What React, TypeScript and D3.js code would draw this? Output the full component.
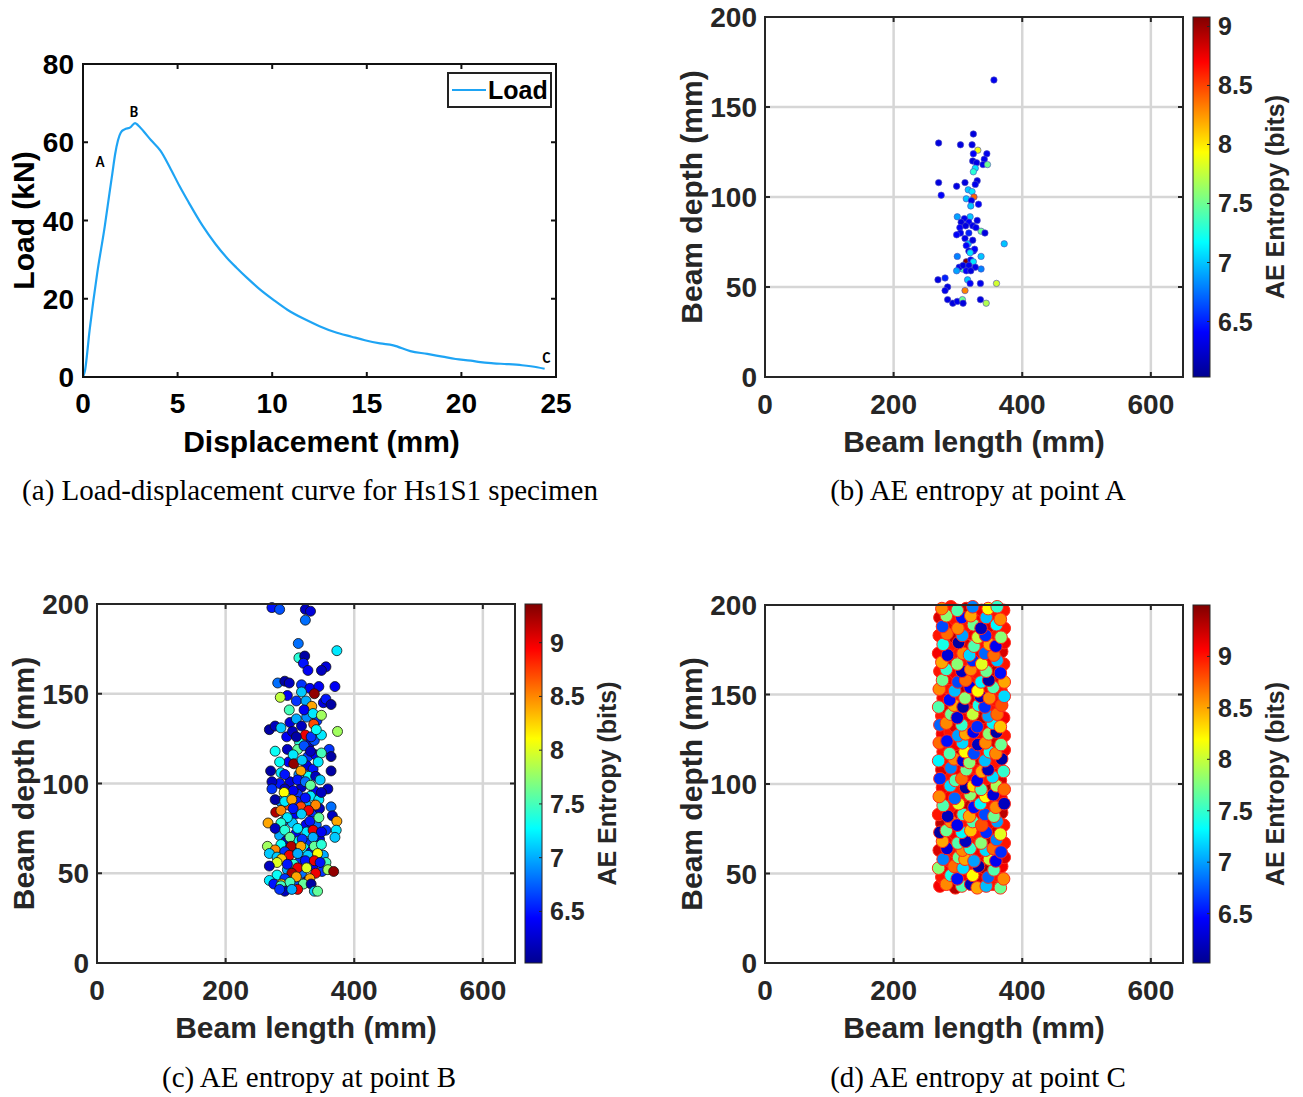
import React from 'react';
import * as d3 from 'd3';

// ---------------- DATA ----------------
const dispMM = [0,0.1,0.35,0.75,1.15,1.4,1.55,1.7,1.85,2.0,2.2,2.5,2.75,2.9,3.2,3.6,4.1,4.6,5.1,5.6,6.3,7.0,7.6,8.1,8.7,9.3,10.1,10.8,11.7,12.5,13.3,14.2,14.9,15.7,16.4,17.3,18.2,19.0,19.7,20.5,21.0,21.7,22.4,23.2,24.0,24.4];
const loadKN = [0,1.5,12,26.5,38.5,47,52,57,60.5,62.5,63.3,63.8,64.9,64.4,62.8,60.5,57.8,53.5,48.8,44.5,38.8,34,30.5,28,25.2,22.6,19.6,17.2,14.8,13.0,11.5,10.3,9.4,8.6,8.1,6.6,5.9,5.2,4.6,4.2,3.8,3.5,3.3,3.0,2.5,2.1];
const pointLabels = [
  { t: 'A', x: 0.9, y: 53.7 },
  { t: 'B', x: 2.7, y: 66.4 },
  { t: 'C', x: 24.5, y: 3.6 },
];
const dispTicks = [0, 5, 10, 15, 20, 25];
const loadTicks = [0, 20, 40, 60, 80];
const lengthTicks = [0, 200, 400, 600];
const depthTicks = [0, 50, 100, 150, 200];
const entropyTicks = [6.5, 7, 7.5, 8, 8.5, 9];

// [beam length, beam depth, AE entropy]
const pointA: number[][] = [
  [356,165,6.35],[324,135,6.3],[270,130,6.3],[304,129,6.3],[322,129,6.32],[331,126,7.9],[345,124,6.35],[324,124,6.4],[341,121,6.35],[323,120,6.3],[329,119,6.32],[339,118,6.35],[346,118,7.5],[327,116,7.1],[324,114,7.3],[330,109,6.3],[327,107,6.35],[270,108,6.3],[298,106,6.32],[311,108,6.3],[274,101,6.4],[316,104,7.0],[322,103,7.1],[325,100,8.4],[313,99,7.0],[321,98,6.35],[332,96,6.4],[320,95,7.0],[299,89,6.9],[319,89,7.0],[310,88,6.35],[305,86,6.3],[330,87,6.32],[317,86,6.4],[323,84,6.35],[303,83,6.4],[312,84,6.3],[336,81,7.5],[328,83,6.35],[342,80,6.3],[304,80,6.35],[298,79,6.4],[317,80,6.5],[311,77,6.35],[316,74,7.0],[372,74,7.0],[323,76,6.3],[313,73,6.4],[324,70,6.35],[317,70,6.32],[326,71,6.4],[319,69,7.1],[299,67,6.8],[336,67,7.0],[313,64,9.1],[307,60,7.4],[302,61,6.35],[308,62,6.3],[320,65,6.4],[324,64,7.1],[317,62,6.35],[298,59,6.9],[336,60,6.8],[313,59,6.4],[327,61,6.35],[320,59,6.3],[269,54,6.3],[280,55,6.5],[315,54,7.0],[319,52,6.4],[335,52,6.35],[360,52,7.8],[284,50,6.3],[280,48,6.35],[311,48,8.3],[284,43,6.32],[335,43,6.3],[292,41,6.3],[299,42,6.35],[307,43,7.5],[308,41,6.3],[344,41,7.7]
];

const pointBCore: number[][] = [
  [300,134,6.3],[310,136,7.0],[326,137,6.9],[342,135,6.6],[295,126,6.4],[315,123,7.4],[330,122,6.3],[338,124,6.7],[296,119,6.2],[312,119,7.6],[328,115,6.6],[340,116,6.4],[298,112,6.4],[326,110,6.3],[336,108,6.5],[314,105,6.9],[329,104,7.3],[340,104,6.2],[300,101,6.3],[284,100,6.5],[318,98,6.2],[338,96,6.4],[298,93,7.3],[312,94,6.6],[332,93,7.2],[285,90,6.9],[345,91,7.2],[311,90,6.5],[298,88,8.7],[326,88,7.0],[335,84,6.6],[309,83,6.4],[346,86,6.2],[290,79,6.8],[304,78,7.1],[325,77,6.4],[341,77,6.8],[284,71,7.0],[309,72,6.4],[326,73,7.2],[356,74,6.6],[294,68,6.2],[314,68,7.3],[330,67,6.6],[346,69,6.3],[306,63,6.5],[322,64,7.3],[333,62,6.4],[295,58,6.8],[316,57,6.6],[352,60,7.0],[306,55,7.4],[336,54,6.4],[318,50,6.8],[296,52,7.0],[350,51,6.6],[325,45,6.4],[308,44,6.7],[295,42,7.6],[352,145,6.3],[310,146,6.6],[325,146,7.0],[296,149,6.4]
];
const pointB: number[][] = [
  [272,198,6.5],[284,197,6.7],[324,197,6.2],[332,196,6.3],[324,191,6.8],
  [313,178,6.8],[373,174,7.2],[314,170,7.4],[323,171,6.1],[321,167,6.5],[328,163,6.4],[356,165,6.3],[349,163,6.2],
  [281,156,6.8],[292,157,6.1],[299,156,6.2],[318,155,6.6],[331,153,6.4],[345,154,6.4],[370,154,6.4],[318,151,7.1],[338,150,9.3],[285,148,7.9],[356,147,6.5],[364,144,6.1],[334,143,8.4],[322,141,6.4],[336,139,7.2],[349,138,7.8],[299,141,7.5],
  [268,130,6.1],[277,132,6.2],[286,131,7.1],[304,129,6.2],[318,132,6.2],[337,133,8.7],[324,127,9.0],[333,126,6.6],[349,127,7.2],[374,129,7.8],[310,126,6.1],[341,130,7.3],
  [277,118,7.3],[305,116,7.2],[322,121,6.7],[332,118,6.2],[361,119,6.6],[364,115,6.1],[349,117,7.5],[284,112,7.3],[306,111,9.3],[319,113,7.1],[344,112,7.2],[270,107,6.1],[286,106,7.2],[292,105,6.5],[317,107,8.4],[364,107,6.1],[272,101,6.2],[312,102,6.5],[324,101,6.8],[332,99,7.6],[347,102,7.1],[359,97,6.2],[272,97,6.6],[292,97,6.2],[305,96,6.4],[291,95,8.1],[349,95,6.2],
  [277,91,6.1],[292,90,7.2],[303,91,8.4],[324,92,6.5],[340,88,8.5],[317,87,8.7],[305,86,6.5],[278,84,9.2],[286,85,8.5],[329,85,9.0],[296,81,7.2],[318,83,7.1],[364,87,6.8],[331,79,6.5],[366,82,6.2],[345,81,7.6],
  [266,78,8.4],[286,78,7.4],[277,75,6.2],[292,74,7.4],[312,75,7.2],[336,74,9.0],[349,73,6.4],[373,79,8.4],[372,74,7.2],[370,70,7.1],[300,70,7.6],[319,69,6.6],[336,70,7.0],
  [265,65,7.8],[286,66,7.3],[302,65,9.2],[317,65,8.4],[338,65,7.6],[349,66,7.4],[277,63,8.5],[292,62,6.6],[299,60,9.0],[312,61,7.0],[328,60,7.1],[343,61,8.1],[268,61,7.1],[280,59,7.1],[287,58,8.3],[324,57,6.5],[338,57,9.0],[356,56,7.5],[280,56,8.0],[268,54,6.2],[296,55,6.5],[312,53,9.0],[326,53,8.0],[347,56,6.5],[359,52,7.8],[368,51,9.3],[340,50,9.0],[303,50,9.2],[280,49,7.3],[292,47,6.6],[310,48,8.4],[331,47,8.4],[268,46,7.2],[275,44,6.5],[287,44,8.3],[300,45,7.5],[321,44,7.6],[333,44,6.1],[286,43,7.5],[312,41,9.0],[292,40,6.2],[338,40,7.1],[343,40,7.6],[303,41,7.0],[284,41,6.6]
];

const pointC: number[][] = [
  [272,43,9.1],[282,44,8.6],[296,42,9.3],[306,43,7.6],[320,44,6.2],[330,42,8.5],[344,43,7.1],[354,44,9.0],[366,42,7.7],
  [275,48,9.0],[289,49,7.4],[299,47,6.5],[313,48,9.1],[323,49,8.2],[337,47,9.2],[347,48,6.8],[361,49,9.0],[371,47,8.6],
  [270,53,7.8],[284,52,9.1],[294,54,8.7],[308,53,7.2],[318,52,9.0],[332,54,6.1],[342,53,9.4],[356,52,7.6],[368,54,9.1],
  [277,58,6.9],[287,57,9.0],[301,59,7.7],[311,58,8.5],[325,57,7.0],[335,59,9.1],[349,58,8.0],[359,57,6.4],[372,59,9.2],
  [271,63,9.2],[283,64,6.3],[295,62,9.0],[307,63,8.6],[319,64,7.5],[331,62,9.1],[343,63,7.2],[355,64,8.7],[367,62,6.6],
  [276,68,8.5],[288,69,9.1],[300,67,7.6],[312,68,6.2],[324,69,9.0],[336,67,7.8],[348,68,9.3],[360,69,6.9],[372,67,9.0],
  [272,73,6.1],[282,74,7.7],[296,72,9.1],[306,73,7.3],[320,74,8.4],[330,72,9.0],[344,73,6.6],[354,74,9.2],[366,72,8.1],
  [275,78,9.3],[289,79,8.6],[299,77,6.4],[313,78,9.0],[323,79,7.6],[337,77,8.8],[347,78,9.1],[361,79,7.0],[371,77,9.0],
  [270,83,9.0],[284,82,6.2],[294,84,9.2],[308,83,7.5],[318,82,8.5],[332,84,9.1],[342,83,6.7],[356,82,7.7],[368,84,9.3],
  [277,88,7.6],[287,87,9.0],[301,89,8.1],[311,88,9.3],[325,87,6.5],[335,89,7.3],[349,88,9.0],[359,87,8.6],[372,89,6.2],
  [271,93,8.6],[283,94,9.1],[295,92,6.8],[307,93,9.0],[319,94,7.8],[331,92,9.2],[343,93,8.2],[355,94,6.3],[367,92,9.1],
  [276,98,9.1],[288,99,7.2],[300,97,9.0],[312,98,6.1],[324,99,8.3],[336,97,7.6],[348,98,9.4],[360,99,7.9],[372,97,8.7],
  [272,103,6.6],[282,104,9.0],[296,102,7.6],[306,103,8.7],[320,104,9.1],[330,102,6.4],[344,103,9.0],[354,104,7.2],[366,102,9.2],
  [275,108,9.2],[289,109,6.9],[299,107,9.1],[313,108,7.7],[323,109,9.0],[337,107,8.5],[347,108,6.2],[361,109,9.1],[371,107,7.5],
  [270,113,7.3],[284,112,9.0],[294,114,8.6],[308,113,6.3],[318,112,7.8],[332,114,9.2],[342,113,7.1],[356,112,9.0],[368,114,6.1],
  [277,118,9.0],[287,117,7.6],[301,119,9.3],[311,118,8.2],[325,117,6.7],[335,119,9.0],[349,118,7.4],[359,117,8.6],[372,119,9.1],
  [271,123,8.7],[283,124,6.5],[295,122,9.1],[307,123,7.2],[319,124,9.0],[331,122,6.2],[343,123,8.6],[355,124,9.2],[367,122,7.7],
  [276,128,9.1],[288,129,9.0],[300,127,7.0],[312,128,8.5],[324,129,6.4],[336,127,9.1],[348,128,7.8],[360,129,6.1],[372,127,9.0],
  [272,133,6.8],[282,134,8.6],[296,132,9.2],[306,133,7.5],[320,134,9.0],[330,132,6.6],[344,133,9.1],[354,134,7.3],[366,132,8.4],
  [275,138,9.0],[289,139,7.7],[299,137,6.3],[313,138,9.1],[323,139,8.0],[337,137,9.3],[347,138,7.0],[361,139,8.7],[371,137,9.1],
  [270,143,7.6],[284,142,9.2],[294,144,8.5],[308,143,6.1],[318,142,9.0],[332,144,7.4],[342,143,6.6],[356,142,9.0],[368,144,8.8],
  [277,148,9.1],[287,147,6.5],[301,149,9.0],[311,148,7.8],[325,147,9.2],[335,149,6.2],[349,148,8.6],[359,147,9.0],[372,149,7.2],
  [271,153,8.6],[283,154,9.0],[295,152,7.1],[307,153,9.3],[319,154,6.4],[331,152,8.2],[343,153,9.1],[355,154,7.6],[367,152,9.0],
  [276,158,7.7],[288,159,9.1],[300,157,6.7],[312,158,8.7],[324,159,9.0],[336,157,7.3],[348,158,6.1],[360,159,9.2],[372,157,8.5],
  [272,163,9.0],[282,164,7.5],[296,162,9.1],[306,163,6.2],[320,164,8.6],[330,162,9.0],[344,163,7.7],[354,164,9.3],[366,162,6.5],
  [275,168,8.5],[289,169,9.2],[299,167,7.8],[313,168,9.0],[323,169,6.6],[337,167,8.1],[347,168,9.1],[361,169,7.1],[371,167,9.0],
  [270,173,9.1],[284,172,6.3],[294,174,9.0],[308,173,8.6],[318,172,7.2],[332,174,9.1],[342,173,6.8],[356,172,8.7],[368,174,9.2],
  [277,178,7.4],[287,177,9.0],[301,179,6.1],[311,178,9.2],[325,177,7.6],[335,179,9.0],[349,178,8.5],[359,177,6.4],[372,179,9.1],
  [271,183,9.0],[283,184,8.7],[295,182,9.3],[307,183,7.0],[319,184,9.1],[331,182,8.0],[343,183,6.6],[355,184,9.0],[367,182,7.8],
  [276,188,6.7],[288,189,9.1],[300,187,8.6],[312,188,9.0],[324,189,7.7],[336,187,6.2],[348,188,9.2],[360,189,7.3],[372,187,9.0],
  [272,193,9.2],[282,194,7.8],[296,192,9.0],[306,193,6.5],[320,194,8.5],[330,192,9.1],[344,193,7.1],[354,194,9.0],[366,192,8.6],
  [275,198,8.6],[289,199,9.0],[299,197,7.6],[313,198,9.3],[323,199,6.9],[337,197,9.1],[347,198,8.2],[361,199,7.5],[371,197,9.0]
];

const captions = [
  '(a) Load-displacement curve for Hs1S1 specimen',
  '(b) AE entropy at point A',
  '(c) AE entropy at point B',
  '(d) AE entropy at point C',
];

// ---------------- STYLE ----------------
const SANS = "'Liberation Sans', Arial, Helvetica, sans-serif";
const SERIF = "'Liberation Serif', 'Times New Roman', serif";
const AX = '#262626';

const jetStops = [0, 0.125, 0.375, 0.625, 0.875, 1];
const jetColors = ['#000090', '#0000ff', '#00ffff', '#ffff00', '#ff0000', '#800000'];
const jet = d3.scaleLinear<string>().domain(jetStops).range(jetColors).interpolate(d3.interpolateRgb).clamp(true);

function PanelA() {
  const L = 83, R = 556, T = 64, B = 377;
  const x = d3.scaleLinear().domain([0, 25]).range([L, R]);
  const y = d3.scaleLinear().domain([0, 80]).range([B, T]);
  const line = d3.line<number>().x((_, i) => x(dispMM[i])).y(d => y(d)).curve(d3.curveMonotoneX);
  const tl = 5;
  return (
    <g>
      <path d={line(loadKN) || ''} fill="none" stroke="#1ea4f4" strokeWidth={2.2} strokeLinejoin="round" />
      {pointLabels.map(p => (
        <text key={p.t} x={x(p.x)} y={y(p.y)} textAnchor="middle" fontFamily="Carlito, Calibri, 'Liberation Sans', sans-serif" fontWeight="bold" fontSize={15} fill="#000">{p.t}</text>
      ))}
      <rect x={L} y={T} width={R - L} height={B - T} fill="none" stroke="#111" strokeWidth={2} />
      {dispTicks.map(t => (
        <g key={'xt' + t}>
          <line x1={x(t)} x2={x(t)} y1={B} y2={B - tl} stroke="#111" strokeWidth={2} />
          <line x1={x(t)} x2={x(t)} y1={T} y2={T + tl} stroke="#111" strokeWidth={2} />
          <text x={x(t)} y={B + 36} textAnchor="middle" fontFamily={SANS} fontWeight="bold" fontSize={28} fill="#000">{t}</text>
        </g>
      ))}
      {loadTicks.map(t => (
        <g key={'yt' + t}>
          <line x1={L} x2={L + tl} y1={y(t)} y2={y(t)} stroke="#111" strokeWidth={2} />
          <line x1={R} x2={R - tl} y1={y(t)} y2={y(t)} stroke="#111" strokeWidth={2} />
          <text x={L - 9} y={y(t) + 10} textAnchor="end" fontFamily={SANS} fontWeight="bold" fontSize={28} fill="#000">{t}</text>
        </g>
      ))}
      <text x={(L + R) / 2 + 2} y={B + 75} textAnchor="middle" fontFamily={SANS} fontWeight="bold" fontSize={30} fill="#000">Displacement (mm)</text>
      <text transform={`translate(34,${(T + B) / 2}) rotate(-90)`} textAnchor="middle" fontFamily={SANS} fontWeight="bold" fontSize={30} fill="#000">Load (kN)</text>
      <rect x={448} y={73} width={103} height={34} fill="#fff" stroke="#222" strokeWidth={2} />
      <line x1={452} x2={486} y1={90} y2={90} stroke="#1ea4f4" strokeWidth={2} />
      <text x={488} y={99} fontFamily={SANS} fontWeight="bold" fontSize={25} fill="#000">Load</text>
    </g>
  );
}

type SP = {
  id: string; L: number; R: number; T: number; B: number; cbL: number; cbR: number;
  dom: [number, number]; pts: number[][]; r: number; stroke: string; sw: number;
};

function ScatterPanel(p: SP) {
  const { L, R, T, B, cbL, cbR, dom } = p;
  const x = d3.scaleLinear().domain([0, 650]).range([L, R]);
  const y = d3.scaleLinear().domain([0, 200]).range([B, T]);
  const cy = d3.scaleLinear().domain(dom).range([B, T]);
  const color = (e: number) => jet((e - dom[0]) / (dom[1] - dom[0]));
  const tl = 5;
  const gid = 'grad' + p.id;
  return (
    <g>
      <defs>
        <linearGradient id={gid} x1="0" y1="1" x2="0" y2="0">
          {d3.range(0, 1.0001, 0.025).map(t => (
            <stop key={t} offset={t} stopColor={jet(t)} />
          ))}
        </linearGradient>
      </defs>
      {lengthTicks.filter(t => t > 0).map(t => (
        <line key={'gx' + t} x1={x(t)} x2={x(t)} y1={T} y2={B} stroke="#d6d6d6" strokeWidth={2.5} />
      ))}
      {depthTicks.filter(t => t > 0 && t < 200).map(t => (
        <line key={'gy' + t} x1={L} x2={R} y1={y(t)} y2={y(t)} stroke="#d6d6d6" strokeWidth={2.5} />
      ))}
      {p.pts.map((d, i) => (
        <circle key={i} cx={x(d[0])} cy={y(d[1])} r={p.r} fill={color(d[2])} stroke={p.stroke} strokeWidth={p.sw} />
      ))}
      <rect x={L} y={T} width={R - L} height={B - T} fill="none" stroke={AX} strokeWidth={2} />
      {lengthTicks.map(t => (
        <g key={'xt' + t}>
          <line x1={x(t)} x2={x(t)} y1={B} y2={B - tl} stroke={AX} strokeWidth={2} />
          <line x1={x(t)} x2={x(t)} y1={T} y2={T + tl} stroke={AX} strokeWidth={2} />
          <text x={x(t)} y={B + 37} textAnchor="middle" fontFamily={SANS} fontWeight="bold" fontSize={28} fill={AX}>{t}</text>
        </g>
      ))}
      {depthTicks.map(t => (
        <g key={'yt' + t}>
          <line x1={L} x2={L + tl} y1={y(t)} y2={y(t)} stroke={AX} strokeWidth={2} />
          <line x1={R} x2={R - tl} y1={y(t)} y2={y(t)} stroke={AX} strokeWidth={2} />
          <text x={L - 8} y={y(t) + 10} textAnchor="end" fontFamily={SANS} fontWeight="bold" fontSize={28} fill={AX}>{t}</text>
        </g>
      ))}
      <text x={(L + R) / 2} y={B + 75} textAnchor="middle" fontFamily={SANS} fontWeight="bold" fontSize={30} fill={AX}>Beam length (mm)</text>
      <text transform={`translate(${L - 63},${(T + B) / 2}) rotate(-90)`} textAnchor="middle" fontFamily={SANS} fontWeight="bold" fontSize={30} fill={AX}>Beam depth (mm)</text>
      <rect x={cbL} y={T} width={cbR - cbL} height={B - T} fill={`url(#${gid})`} stroke={AX} strokeWidth={1} />
      {entropyTicks.map(t => (
        <g key={'ct' + t}>
          <line x1={cbR} x2={cbR - 3} y1={cy(t)} y2={cy(t)} stroke={AX} strokeWidth={1} />
          <text x={cbR + 8} y={cy(t) + 9} fontFamily={SANS} fontWeight="bold" fontSize={25} fill={AX}>{t}</text>
        </g>
      ))}
      <text transform={`translate(${cbR + 74},${(T + B) / 2}) rotate(-90)`} textAnchor="middle" fontFamily={SANS} fontWeight="bold" fontSize={25} fill={AX}>AE Entropy (bits)</text>
    </g>
  );
}

// draw the high-entropy hits first so that the lower-entropy hits stay visible on top
const pointCOrdered = pointC.filter(d => d[2] >= 8.9).concat(pointC.filter(d => d[2] < 8.9));

export default function App() {
  return (
    <svg width={1303} height={1097} viewBox="0 0 1303 1097" style={{ position: 'absolute', left: 0, top: 0, background: '#fff' }}>
      <rect x={0} y={0} width={1303} height={1097} fill="#fff" />
      <PanelA />
      <ScatterPanel id="b" L={765} R={1183} T={17} B={377} cbL={1193} cbR={1210} dom={[6.03, 9.08]} pts={pointA} r={3.2} stroke="rgba(80,80,190,0.9)" sw={0.7} />
      <ScatterPanel id="c" L={97} R={515} T={604} B={963} cbL={525} cbR={542} dom={[6.02, 9.36]} pts={pointBCore.concat(pointB)} r={5} stroke="#111" sw={0.8} />
      <ScatterPanel id="d" L={765} R={1183} T={605} B={963} cbL={1193} cbR={1210} dom={[6.02, 9.5]} pts={pointCOrdered} r={6.3} stroke="#ff2a1a" sw={1} />
      <text x={310} y={500} textAnchor="middle" fontFamily={SERIF} fontSize={29} fill="#000">{captions[0]}</text>
      <text x={978} y={500} textAnchor="middle" fontFamily={SERIF} fontSize={29} fill="#000">{captions[1]}</text>
      <text x={309} y={1087} textAnchor="middle" fontFamily={SERIF} fontSize={29} fill="#000">{captions[2]}</text>
      <text x={978} y={1087} textAnchor="middle" fontFamily={SERIF} fontSize={29} fill="#000">{captions[3]}</text>
    </svg>
  );
}
